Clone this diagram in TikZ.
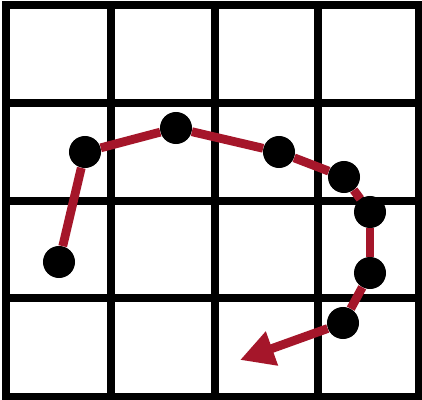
\documentclass[tikz,border=0pt]{standalone}
\usepackage{tikz}
\usetikzlibrary{arrows.meta}

\definecolor{pathred}{RGB}{165,22,42}

\begin{document}
\begin{tikzpicture}[
                x=0.025cm, y=-0.025cm,
                gridline/.style={line width=0.2cm, black},
                dot/.style={circle, fill=black, inner sep=0pt, minimum size=0.8cm},
                walk/.style={line width=0.22cm, pathred},
                walkarrow/.style={walk, -{Triangle[length=0.85cm, width=0.85cm]}}
            ]
                \useasboundingbox (0,0) rectangle (422,400);
                \fill[white] (0,0) rectangle (422,400);

                % grid
                \foreach \x in {6,111,215,318,419}
                    \draw[gridline] (\x,5) -- (\x,397);
                \foreach \y in {5,103,201,298,397}
                    \draw[gridline] (6,\y) -- (419,\y);
                \draw[gridline, line cap=rect] (6,5) rectangle (419,397);

                % walk
                \node[dot] (p1) at (59,262) {};
                \node[dot] (p2) at (85,152) {};
                \node[dot] (p3) at (176,128) {};
                \node[dot] (p4) at (279,152) {};
                \node[dot] (p5) at (344,177) {};
                \node[dot] (p6) at (370,212) {};
                \node[dot] (p7) at (370,273) {};
                \node[dot] (p8) at (343,323) {};
                \coordinate (tip) at (240,360);

                \draw[walk] (p1) -- (p2);
                \draw[walk] (p2) -- (p3);
                \draw[walk] (p3) -- (p4);
                \draw[walk] (p4) -- (p5);
                \draw[walk] (p5) -- (p6);
                \draw[walk] (p6) -- (p7);
                \draw[walk] (p7) -- (p8);
                \draw[walkarrow] (p8) -- (tip);
            \end{tikzpicture}
\end{document}
